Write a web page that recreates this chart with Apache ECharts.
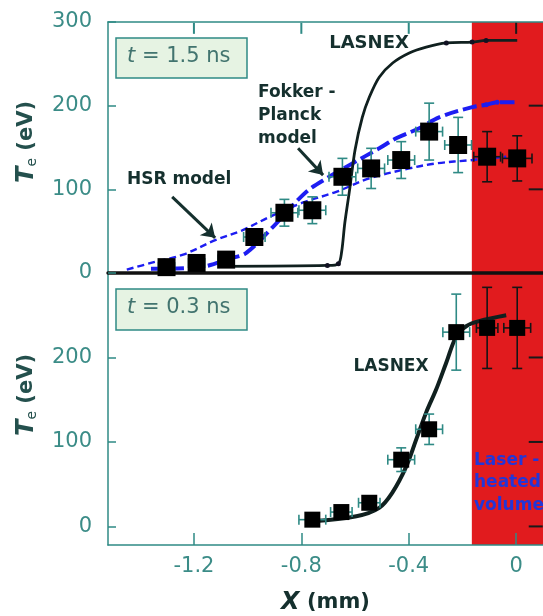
<!DOCTYPE html>
<html>
<head>
<meta charset="utf-8">
<script src="https://cdn.jsdelivr.net/npm/echarts@6/dist/echarts.min.js"></script>
<style>
  html, body { margin: 0; padding: 0; background: #fff; }
  #main { width: 543px; height: 616px; }
</style>
</head>
<body>
<div id="main"></div>
<script>
// ---- data ----
// t = 1.5 ns measurements
var topX    = [-1.302, -1.19, -1.08, -0.975, -0.863, -0.759, -0.647, -0.54, -0.428, -0.324, -0.216, -0.108, 0.004];
var topTe   = [7, 12, 16, 43, 72, 75, 115, 125, 135, 169, 153, 139, 137];
var topErrY = [5, 5, 5, 8, 16, 16, 22, 24, 22, 34, 33, 30, 27];
var topErrX = [0.03, 0.03, 0.03, 0.04, 0.05, 0.05, 0.05, 0.05, 0.05, 0.05, 0.05, 0.05, 0.055];

// t = 0.3 ns measurements
var botX    = [-0.759, -0.651, -0.547, -0.428, -0.324, -0.223, -0.108, 0.004];
var botTe   = [8, 17, 28, 79, 115, 230, 235, 235];
var botErrY = [5, 5, 8, 14, 18, 45, 48, 48];
var botErrX = [0.05, 0.04, 0.04, 0.05, 0.05, 0.05, 0.04, 0.05];

// model curves
var lasnexTopX  = [-1.1, -0.703, -0.662, -0.65, -0.638, -0.62, -0.6, -0.573, -0.547, -0.51, -0.46, -0.398, -0.335, -0.26, -0.164, -0.112, 0.004];
var lasnexTopTe = [8, 9, 11, 25, 60, 100, 147, 186, 210, 234, 251, 263, 270, 275, 276, 278, 278];
var lasnexTopDots = [-0.703, -0.662, -0.26, -0.164, -0.112];

var fpX  = [-1.36, -1.18, -1.057, -1.005, -0.9, -0.781, -0.696, -0.61, -0.51, -0.447, -0.361, -0.287, -0.167, -0.112, -0.071, 0.011];
var fpTe = [5, 7, 18, 24, 57, 97, 115, 131, 149, 161, 173, 186, 198, 201, 204, 204];
var fpDots = [-0.112, -0.071];

var hsrX  = [-1.45, -1.36, -1.24, -1.116, -1.02, -0.919, -0.796, -0.67, -0.547, -0.398, -0.298, -0.164, -0.037];
var hsrTe = [4, 12, 22, 40, 51, 67, 84, 97, 113, 125, 131, 135, 139];

var lasnexBotX  = [-0.759, -0.595, -0.51, -0.461, -0.409, -0.372, -0.335, -0.298, -0.26, -0.223, -0.186, -0.138, -0.037];
var lasnexBotTe = [6, 12, 22, 40, 71, 103, 135, 162, 194, 225, 237, 243, 250];

var xTicks = [-1.2, -0.8, -0.4, 0];
var laserEdge = -0.165;
var xMin = -1.52, xMax = 0.1;

// ---- helpers ----
function zip(xs, ys) {
  return xs.map(function (x, i) { return [x, ys[i]]; });
}
function errRows(xs, ys, ey, ex) {
  return xs.map(function (x, i) { return [x, ys[i], ey[i], ex[i]]; });
}

var TEAL = '#2f8a85';
var LABEL = '#3b8c87';
var DARK = '#15302e';
var BLUE = '#1d1df2';
var RED = '#e11b1e';

function renderErr(params, api) {
  var x = api.value(0), y = api.value(1), ey = api.value(2), ex = api.value(3);
  var top = api.coord([x, y + ey]);
  var bot = api.coord([x, y - ey]);
  var l = api.coord([x - ex, y]);
  var r = api.coord([x + ex, y]);
  var col = x > laserEdge ? '#151515' : TEAL;
  var st = { stroke: col, lineWidth: 1.6 };
  var cap = 5;
  return {
    type: 'group',
    children: [
      { type: 'line', shape: { x1: top[0], y1: top[1], x2: bot[0], y2: bot[1] }, style: st },
      { type: 'line', shape: { x1: top[0] - cap, y1: top[1], x2: top[0] + cap, y2: top[1] }, style: st },
      { type: 'line', shape: { x1: bot[0] - cap, y1: bot[1], x2: bot[0] + cap, y2: bot[1] }, style: st },
      { type: 'line', shape: { x1: l[0], y1: l[1], x2: r[0], y2: r[1] }, style: st },
      { type: 'line', shape: { x1: l[0], y1: l[1] - cap, x2: l[0], y2: l[1] + cap }, style: st },
      { type: 'line', shape: { x1: r[0], y1: r[1] - cap, x2: r[0], y2: r[1] + cap }, style: st }
    ]
  };
}

// inward ticks on the frame edges, drawn through the axis scales
function renderFrameTick(params, api) {
  var x = api.value(0), y = api.value(1), dir = api.value(2);
  var p = api.coord([x, y]);
  var inRed = x > laserEdge;
  var col = inRed ? '#1a1a1a' : TEAL;
  var len = dir === 0 ? 11 : 14;
  var shape = dir === 0
    ? { x1: p[0], y1: p[1], x2: p[0], y2: p[1] + len }
    : { x1: p[0], y1: p[1], x2: p[0] - len, y2: p[1] };
  return { type: 'line', shape: shape, style: { stroke: col, lineWidth: 2, fill: null } };
}

function dotted(xs, ys, dots) {
  return xs.map(function (x, i) {
    var on = dots.indexOf(x) >= 0;
    return { value: [x, ys[i]], symbol: on ? 'circle' : 'none', symbolSize: on ? 5 : 0 };
  });
}

// [x, Te, direction]: 0 = hangs down from top frame, 1 = points left from right frame
var topFrame = xTicks.map(function (v) { return [v, 299, 0]; })
  .concat([[xMax - 0.001, 100, 1], [xMax - 0.001, 200, 1]]);
var botFrame = [[xMax - 0.001, 0, 1], [xMax - 0.001, 100, 1], [xMax - 0.001, 200, 1]];

var chart = echarts.init(document.getElementById('main'));

var xCommon = {
  min: xMin, max: xMax, splitLine: { show: false }, z: 5
};
var labelFont = { color: LABEL, fontSize: 21, fontFamily: 'DejaVu Sans' };

var option = {
  animation: false,
  backgroundColor: '#fff',
  grid: [
    { left: 108, right: 0, top: 22, height: 251 },
    { left: 108, right: 0, top: 273, height: 273 }
  ],
  xAxis: [
    // separator at Te = 0 of the upper panel
    Object.assign({ type: 'value', gridIndex: 0, position: 'bottom',
      axisLine: { onZero: false, lineStyle: { color: '#111', width: 3.5 } },
      axisTick: { show: false }, axisLabel: { show: false } }, xCommon),
    // upper frame
    Object.assign({ type: 'value', gridIndex: 0, position: 'top',
      axisLine: { onZero: false, lineStyle: { color: TEAL, width: 1.5 } },
      axisTick: { show: false }, axisLabel: { show: false } }, xCommon),
    Object.assign({ type: 'value', gridIndex: 1, position: 'bottom',
      axisLine: { onZero: false, lineStyle: { color: TEAL, width: 1.5 } },
      axisTick: { inside: true, length: 12, customValues: xTicks, lineStyle: { color: TEAL, width: 1.5 } },
      axisLabel: Object.assign({ margin: 11, customValues: xTicks,
        formatter: function (v) { return v === 0 ? '0' : v.toFixed(1); } }, labelFont),
      name: '{x|X} (mm)', nameLocation: 'middle', nameGap: 46,
      nameTextStyle: { color: DARK, fontSize: 21, fontWeight: 'bold', fontFamily: 'DejaVu Sans',
        rich: { x: { fontStyle: 'italic', fontWeight: 'bold', fontSize: 24, color: DARK, fontFamily: 'DejaVu Sans' } } } }, xCommon)
  ],
  yAxis: [
    { type: 'value', gridIndex: 0, position: 'left', min: 0, max: 300, interval: 100, z: 5,
      splitLine: { show: false },
      axisLine: { show: true, onZero: false, lineStyle: { color: TEAL, width: 1.5 } },
      axisTick: { inside: true, length: 8, lineStyle: { color: TEAL, width: 1.5 } },
      axisLabel: Object.assign({ margin: 16 }, labelFont) },
    { type: 'value', gridIndex: 1, position: 'left', min: -22, max: 300, z: 5,
      splitLine: { show: false },
      axisLine: { show: true, onZero: false, lineStyle: { color: TEAL, width: 1.5 } },
      axisTick: { inside: true, length: 8, customValues: [0, 100, 200], lineStyle: { color: TEAL, width: 1.5 } },
      axisLabel: Object.assign({ margin: 16, customValues: [0, 100, 200] }, labelFont) }
  ],
  series: [
    // laser-heated region + arrows, top panel
    { type: 'line', xAxisIndex: 0, yAxisIndex: 0, z: 1, data: [[laserEdge, 0]], symbol: 'none', lineStyle: { opacity: 0 },
      markArea: { silent: true, itemStyle: { color: RED }, data: [[{ xAxis: laserEdge }, { xAxis: xMax }]] },
      markLine: { silent: true, symbol: ['none', 'arrow'], symbolSize: 13, label: { show: false },
        lineStyle: { color: DARK, width: 3, type: 'solid' },
        data: [
          [{ coord: [-1.281, 91] }, { coord: [-1.121, 42] }],
          [{ coord: [-0.812, 149] }, { coord: [-0.719, 117] }]
        ] } },
    // laser-heated region, bottom panel
    { type: 'line', xAxisIndex: 2, yAxisIndex: 1, z: 1, data: [[laserEdge, 0]], symbol: 'none', lineStyle: { opacity: 0 },
      markArea: { silent: true, itemStyle: { color: RED }, data: [[{ xAxis: laserEdge }, { xAxis: xMax }]] } },
    // frame ticks (top edge and right edge)
    { type: 'custom', xAxisIndex: 0, yAxisIndex: 0, z: 8, silent: true, clip: false,
      encode: { x: 0, y: 1 }, renderItem: renderFrameTick, data: topFrame },
    { type: 'custom', xAxisIndex: 2, yAxisIndex: 1, z: 8, silent: true, clip: false,
      encode: { x: 0, y: 1 }, renderItem: renderFrameTick, data: botFrame },

    { name: 'HSR model', type: 'line', xAxisIndex: 0, yAxisIndex: 0, z: 3, smooth: 0.35,
      data: zip(hsrX, hsrTe), symbol: 'none',
      lineStyle: { color: BLUE, width: 2.4, type: [7, 4] } },
    { name: 'Fokker-Planck model', type: 'line', xAxisIndex: 0, yAxisIndex: 0, z: 3, smooth: 0.35,
      data: dotted(fpX, fpTe, fpDots), itemStyle: { color: BLUE, opacity: 1 },
      lineStyle: { color: BLUE, width: 4, type: [14, 5] } },
    { name: 'LASNEX', type: 'line', xAxisIndex: 0, yAxisIndex: 0, z: 3, smooth: 0.3,
      data: dotted(lasnexTopX, lasnexTopTe, lasnexTopDots), itemStyle: { color: '#112', opacity: 1 },
      lineStyle: { color: '#10201f', width: 2.8 } },
    { type: 'custom', xAxisIndex: 0, yAxisIndex: 0, z: 4, renderItem: renderErr,
      data: errRows(topX, topTe, topErrY, topErrX) },
    { type: 'scatter', xAxisIndex: 0, yAxisIndex: 0, z: 5, symbol: 'rect', symbolSize: 18,
      itemStyle: { color: '#000', opacity: 1 }, data: zip(topX, topTe) },

    { name: 'LASNEX 0.3', type: 'line', xAxisIndex: 2, yAxisIndex: 1, z: 3, smooth: 0.35,
      data: zip(lasnexBotX, lasnexBotTe), symbol: 'none',
      lineStyle: { color: '#10201f', width: 4 } },
    { type: 'custom', xAxisIndex: 2, yAxisIndex: 1, z: 4, renderItem: renderErr,
      data: errRows(botX, botTe, botErrY, botErrX) },
    { type: 'scatter', xAxisIndex: 2, yAxisIndex: 1, z: 5, symbol: 'rect', symbolSize: 16,
      itemStyle: { color: '#000', opacity: 1 }, data: zip(botX, botTe) }
  ],
  graphic: [
    { type: 'rect', z: 20, shape: { x: 116, y: 38, width: 131, height: 40 },
      style: { fill: '#e6f3e3', stroke: TEAL, lineWidth: 1.5 } },
    { type: 'text', z: 21, left: 127, top: 46,
      style: { text: '{i|t} = 1.5 ns', fill: '#42746f', font: '21px "DejaVu Sans"',
        rich: { i: { fontStyle: 'italic', fontSize: 21, fontFamily: 'DejaVu Sans', fill: '#42746f' } } } },
    { type: 'rect', z: 20, shape: { x: 116, y: 289, width: 131, height: 41 },
      style: { fill: '#e6f3e3', stroke: TEAL, lineWidth: 1.5 } },
    { type: 'text', z: 21, left: 127, top: 297,
      style: { text: '{i|t} = 0.3 ns', fill: '#42746f', font: '21px "DejaVu Sans"',
        rich: { i: { fontStyle: 'italic', fontSize: 21, fontFamily: 'DejaVu Sans', fill: '#42746f' } } } },

    { type: 'text', z: 21, x: 27, y: 142, rotation: Math.PI / 2,
      style: { text: '{t|T}{s|e} (eV)', fill: '#24504d', font: 'bold 21px "DejaVu Sans"', align: 'center', verticalAlign: 'middle',
        rich: { t: { fontStyle: 'italic', fontWeight: 'bold', fontSize: 24, fontFamily: 'DejaVu Sans', fill: '#24504d' },
                s: { fontSize: 14, fontFamily: 'DejaVu Sans', padding: [10, 0, 0, 0], fill: '#24504d' } } } },
    { type: 'text', z: 21, x: 27, y: 395, rotation: Math.PI / 2,
      style: { text: '{t|T}{s|e} (eV)', fill: '#24504d', font: 'bold 21px "DejaVu Sans"', align: 'center', verticalAlign: 'middle',
        rich: { t: { fontStyle: 'italic', fontWeight: 'bold', fontSize: 24, fontFamily: 'DejaVu Sans', fill: '#24504d' },
                s: { fontSize: 14, fontFamily: 'DejaVu Sans', padding: [10, 0, 0, 0], fill: '#24504d' } } } },

    { type: 'text', z: 21, x: 369, y: 43,
      style: { text: 'LASNEX', fill: DARK, font: 'bold 18px "DejaVu Sans"', align: 'center', verticalAlign: 'middle' } },
    { type: 'text', z: 21, x: 258, y: 81,
      style: { text: 'Fokker -\nPlanck\nmodel', fill: DARK, font: 'bold 17px "DejaVu Sans"', lineHeight: 23 } },
    { type: 'text', z: 21, x: 127, y: 180,
      style: { text: 'HSR model', fill: DARK, font: 'bold 17px "DejaVu Sans"', verticalAlign: 'middle' } },
    { type: 'text', z: 21, x: 391, y: 367,
      style: { text: 'LASNEX', fill: DARK, font: 'bold 17px "DejaVu Sans"', align: 'center', verticalAlign: 'middle' } },
    { type: 'text', z: 21, x: 474, y: 449,
      style: { text: 'Laser -\nheated\nvolume', fill: '#2336d8', font: 'bold 17px "DejaVu Sans"', lineHeight: 22.5 } }
  ]
};

chart.setOption(option);
</script>
</body>
</html>
